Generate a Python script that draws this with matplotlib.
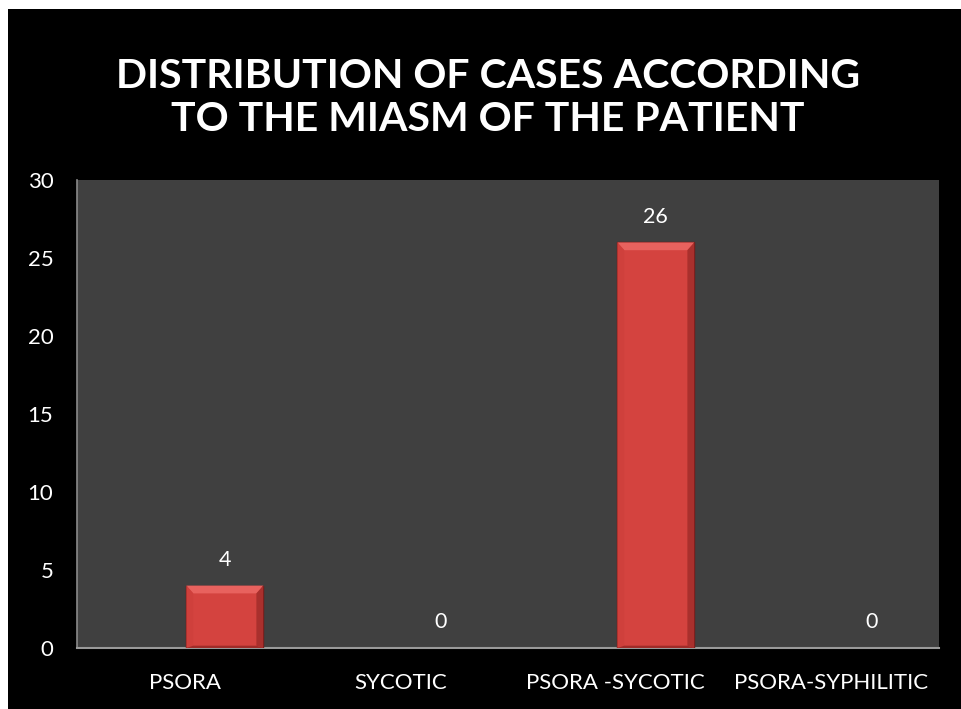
import matplotlib
matplotlib.use("Agg")
import matplotlib.pyplot as plt
from matplotlib.patches import Rectangle, Polygon
import numpy as np

categories = ["PSORA", "SYCOTIC", "PSORA -SYCOTIC", "PSORA-SYPHILITIC"]
cases = [4, 0, 26, 0]
y_ticks = [0, 5, 10, 15, 20, 25, 30]
title_text = "DISTRIBUTION OF CASES ACCORDING\nTO THE MIASM OF THE PATIENT"

plt.rcParams["font.family"] = ["Lato", "DejaVu Sans"]

fig = plt.figure(figsize=(9.61, 7.09), dpi=100, facecolor="white")
# black slide background, leaving a thin white strip on top and left
fig.patches.append(Rectangle((8 / 961, 0), 1, 1 - 9 / 709, transform=fig.transFigure,
                             facecolor="black", edgecolor="none", zorder=-10))

ax = fig.add_axes([77 / 961, 61 / 709, 862 / 961, 468 / 709])
ax.set_facecolor("#404040")

x = np.arange(len(categories))
bar_w = 0.357
offset = 0.186
bars_x = x + offset

for xi, v in zip(bars_x, cases):
    if v <= 0:
        continue
    left = xi - bar_w / 2
    right = xi + bar_w / 2
    # main body
    ax.bar(xi, v, width=bar_w, color="#d4433f", edgecolor="#6e1a18", linewidth=1.0, zorder=3)
    # bevel: top highlight, side shading
    bev_x = bar_w * 0.09
    bev_y = 0.5
    ax.add_patch(Polygon([(left, v), (right, v), (right - bev_x, v - bev_y), (left + bev_x, v - bev_y)],
                         closed=True, facecolor="#e8625e", edgecolor="none", zorder=4))
    ax.add_patch(Polygon([(left, v), (left + bev_x, v - bev_y), (left + bev_x, 0.15), (left, 0)],
                         closed=True, facecolor="#cf403c", edgecolor="none", zorder=4))
    ax.add_patch(Polygon([(right, v), (right - bev_x, v - bev_y), (right - bev_x, 0.15), (right, 0)],
                         closed=True, facecolor="#a9302d", edgecolor="none", zorder=4))
    ax.add_patch(Polygon([(left, 0), (left + bev_x, 0.15), (right - bev_x, 0.15), (right, 0)],
                         closed=True, facecolor="#a02c29", edgecolor="none", zorder=4))

for xi, v in zip(bars_x, cases):
    ax.text(xi, v + 1.0, str(v), ha="center", va="bottom", color="white", fontsize=15.5, zorder=5)

ax.set_xlim(-0.5, len(categories) - 0.5)
ax.set_ylim(0, 30)
ax.set_yticks(y_ticks)
ax.set_yticklabels([str(t) for t in y_ticks])
ax.set_xticks(x)
ax.set_xticklabels(categories)
ax.tick_params(axis="both", colors="white", labelsize=16, length=0)
ax.tick_params(axis="y", pad=17)
ax.tick_params(axis="x", pad=18)

for side in ["top", "right"]:
    ax.spines[side].set_visible(False)
ax.spines["left"].set_color("#8a8a8a")
ax.spines["bottom"].set_color("#9a9a9a")
ax.spines["left"].set_linewidth(1.2)
ax.spines["bottom"].set_linewidth(1.5)

fig.text(488 / 961, 1 - 98 / 709, title_text, ha="center", va="center", color="white",
         fontsize=29.5, fontweight="bold", linespacing=1.2)

fig.savefig("out.png", dpi=100, facecolor=fig.get_facecolor())
